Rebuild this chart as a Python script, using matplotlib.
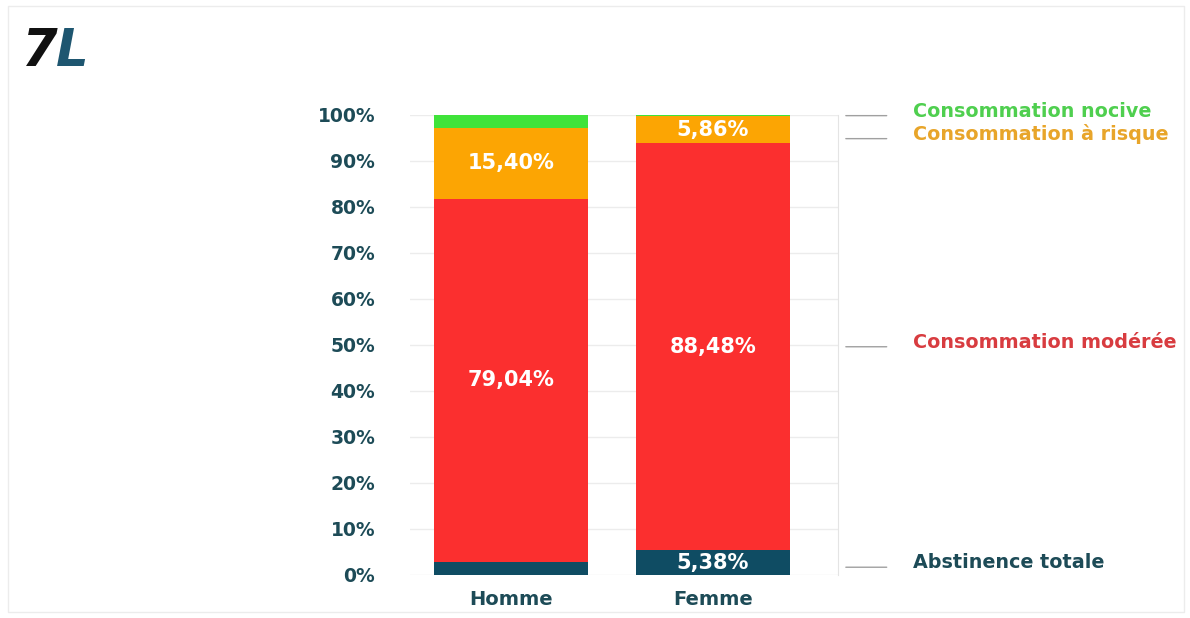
import matplotlib.pyplot as plt
import numpy as np
from matplotlib.patches import Rectangle

groups = ["Homme", "Femme"]
categories = ["Abstinence totale", "Consommation modérée", "Consommation à risque", "Consommation nocive"]
values = {
  "Abstinence totale": [2.80, 5.38],
  "Consommation modérée": [79.04, 88.48],
  "Consommation à risque": [15.40, 5.86],
  "Consommation nocive": [2.76, 0.28],
}
bar_colors = ["#0f4c63", "#fb2f2f", "#fca503", "#3fe33a"]
text_colors = ["#1d4b57", "#d83c40", "#e8a52a", "#4fcf4f"]
yticks = np.arange(0, 101, 10)
ytick_labels = [f"{v}%" for v in yticks]

W, H = 1190, 618
fig = plt.figure(figsize=(W / 100, H / 100), dpi=100)
ax = fig.add_axes([410 / W, (H - 575) / H, (838 - 410) / W, (575 - 115) / H])

x = np.arange(len(groups))
bottom = np.zeros(len(groups))
mids_last = []
for cat, col in zip(categories, bar_colors):
  vals = np.array(values[cat])
  ax.bar(x, vals, 0.76, bottom=bottom, color=col, zorder=3)
  for xi, v, b in zip(x, vals, bottom):
    if v >= 5:
      ax.text(xi, b + v / 2, f"{v:.2f}%".replace(".", ","), ha="center", va="center",
              color="white", fontsize=15, fontweight="bold", zorder=4)
  mids_last.append(bottom[-1] + vals[-1] / 2)
  bottom += vals

ax.set_xlim(-0.5, 1.62)
ax.set_ylim(0, 100)
ax.set_yticks(yticks)
ax.set_yticklabels(ytick_labels)
ax.set_xticks(x)
ax.set_xticklabels(groups)
for lab in ax.get_yticklabels():
  lab.set_fontweight("bold")
  lab.set_color("#1d4b57")
  lab.set_fontsize(13.5)
for lab in ax.get_xticklabels():
  lab.set_fontweight("bold")
  lab.set_color("#1d4b57")
  lab.set_fontsize(14)
ax.tick_params(axis="y", length=0, pad=25)
ax.tick_params(axis="x", length=0, pad=11)
ax.grid(axis="y", color="#ececec", linewidth=1, zorder=0)
for s in ["top", "bottom", "left"]:
  ax.spines[s].set_visible(False)
ax.spines["right"].set_color("#e4e4e4")

# right-hand labels, nudged apart where they collide
label_y = list(mids_last)
label_y[0] -= 1.0
for i in range(len(label_y) - 2, -1, -1):
  if label_y[i + 1] - label_y[i] < 5:
    label_y[i] = label_y[i + 1] - 5
for cat, yv, tc in zip(categories, label_y, text_colors):
  ax.annotate("", xy=(1.645, yv), xytext=(1.875, yv), xycoords="data",
              annotation_clip=False,
              arrowprops=dict(arrowstyle="-", color="#a0a0a0", lw=1))
  ax.text(1.99, yv + 1.0, cat, color=tc, fontsize=13.8, fontweight="bold",
          va="center", ha="left", clip_on=False)

# logo
fig.text(22 / W, 1 - 66 / H, "7", color="#111111", fontsize=37, fontweight="bold",
         fontstyle="italic", va="baseline")
fig.text(56 / W, 1 - 66 / H, "L", color="#1e5670", fontsize=37, fontweight="bold",
         fontstyle="italic", va="baseline")

fig.patches.append(Rectangle((8 / W, 6 / H), 1 - 14 / W, 1 - 12 / H, transform=fig.transFigure,
                             fill=False, edgecolor="#ececec", lw=1))
fig.savefig("out.png", dpi=100, facecolor="white")
